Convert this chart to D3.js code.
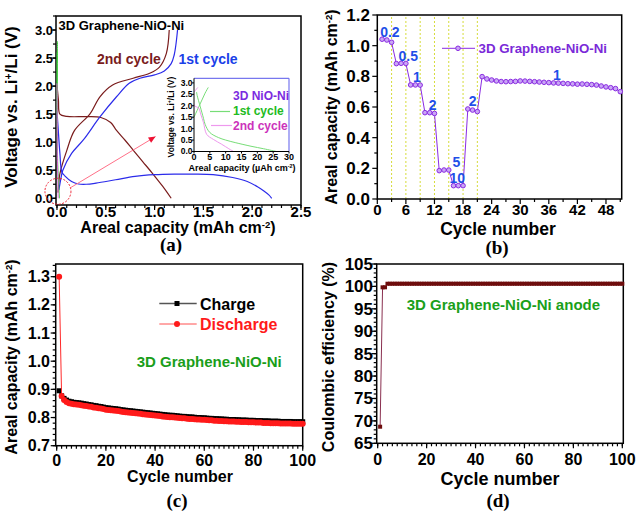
<!DOCTYPE html>
<html><head><meta charset="utf-8">
<script src="https://cdn.jsdelivr.net/npm/d3@7"></script>
<style>
body{margin:0;background:#fff;}
svg{display:block;font-family:"Liberation Sans",Arial,sans-serif;font-weight:bold;}
</style></head><body>
<svg id="c" width="638" height="512"></svg>
<script>
// ---------- Panel (a): voltage profiles (mAh cm-2, V) ----------
const a1DisX = [0.0, 0.01, 0.03, 0.05, 0.08, 0.15, 0.22, 0.3, 0.4, 0.6, 0.8, 1.0, 1.2, 1.4, 1.6, 1.8, 1.95, 2.05, 2.12, 2.17, 2.2];
const a1DisV = [1.55, 1.3, 0.8, 0.47, 0.40, 0.30, 0.255, 0.25, 0.27, 0.33, 0.39, 0.42, 0.43, 0.43, 0.42, 0.37, 0.30, 0.21, 0.13, 0.06, 0.0];
const a1ChX = [0.02, 0.04, 0.06, 0.15, 0.27, 0.44, 0.61, 0.74, 0.85, 1.0, 1.1, 1.17, 1.2, 1.22, 1.235];
const a1ChV = [0.15, 0.35, 0.5, 0.8, 1.04, 1.45, 1.81, 2.05, 2.14, 2.2, 2.27, 2.4, 2.55, 2.76, 3.0];
const a2DisX = [0.0, 0.015, 0.03, 0.1, 0.3, 0.45, 0.55, 0.61, 0.7, 0.78, 0.88, 0.98, 1.08, 1.17];
const a2DisV = [2.02, 1.75, 1.5, 1.46, 1.455, 1.44, 1.35, 1.21, 1.03, 0.86, 0.65, 0.44, 0.22, 0.0];
const a2ChX = [0.01, 0.02, 0.03, 0.1, 0.18, 0.34, 0.44, 0.57, 0.78, 0.95, 1.05, 1.12, 1.15];
const a2ChV = [0.1, 0.3, 0.44, 0.85, 1.21, 1.51, 1.81, 2.02, 2.14, 2.23, 2.34, 2.58, 3.0];
// inset: 3D NiO-Ni (uAh cm-2, V)
const n1ChX = [0, 0.5, 1.5, 2.5, 3.5, 4.5];
const n1ChV = [1.50, 1.65, 1.95, 2.25, 2.55, 2.8];
const n1DisX = [0.8, 1.0, 2.0, 3.0, 3.5, 5, 7.7, 10, 13, 18, 22, 26];
const n1DisV = [2.6, 2.45, 1.95, 1.45, 1.19, 0.83, 0.61, 0.5, 0.39, 0.23, 0.12, 0.0];
const n2DisX = [0, 0.3, 1.4, 2.2, 3.0, 4.0, 6.1, 8.7, 11.0, 12.5];
const n2DisV = [2.05, 1.98, 1.91, 1.6, 1.26, 0.75, 0.53, 0.32, 0.12, 0.0];
const n2ChX = [0, 0.6, 1.2];
const n2ChV = [2.6, 2.7, 2.8];
const aXTicks = [0, 0.5, 1.0, 1.5, 2.0, 2.5];
const aYTicks = [0, 0.5, 1.0, 1.5, 2.0, 2.5, 3.0];
const inXTicks = [0, 5, 10, 15, 20, 25, 30];
const inYTicks = [0, 0.5, 1.0, 1.5, 2.0, 2.5, 3.0];
const circleAt = [0.01, 0.125];
const arrowFrom = [0.14, 0.19], arrowTo = [1.01, 1.1];

// ---------- Panel (b): rate capability ----------
const bCycles = [1,2,3,4,5,6,7,8,9,10,11,12,13,14,15,16,17,18,19,20,21,22,23,24,25,26,27,28,29,30,31,32,33,34,35,36,37,38,39,40,41,42,43,44,45,46,47,48,49,50,51];
const bCap = [1.042,1.037,1.022, 0.883,0.885,0.884, 0.744,0.744,0.743, 0.563,0.563,0.558, 0.185,0.189,0.189, 0.087,0.087,0.087, 0.587,0.580,0.570,
  0.798,0.783,0.776,0.770,0.766,0.765,0.766,0.767,0.770,0.769,0.767,0.765,0.763,0.761,0.759,0.757,0.756,0.754,0.752,0.751,0.749,0.750,0.748,0.746,0.743,0.737,0.731,0.726,0.720,0.700];
const bRateLines = [3, 6, 9, 12, 15, 18, 21];
const bRateLabels = [["0.2", 2.64, 1.058], ["0.5", 6.5, 0.902], ["1", 8.3, 0.765], ["2", 11.6, 0.58], ["5", 16.6, 0.211], ["10", 16.8, 0.104], ["2", 20.0, 0.607], ["1", 37.7, 0.776]];
const bXTicks = [0, 6, 12, 18, 24, 30, 36, 42, 48];
const bYTicks = [0, 0.2, 0.4, 0.6, 0.8, 1.0, 1.2];

// ---------- Panel (c): cycling ----------
const cCycles = d3.range(1, 101);
const cCharge = [0.895,0.877,0.868,0.862,0.858,0.856,0.854,0.853,0.852,0.851,
  0.849,0.848,0.846,0.845,0.843,0.842,0.840,0.839,0.837,0.835,
  0.834,0.833,0.832,0.831,0.830,0.828,0.827,0.826,0.825,0.824,
  0.823,0.822,0.821,0.820,0.819,0.818,0.817,0.816,0.815,0.814,
  0.813,0.812,0.811,0.810,0.809,0.808,0.808,0.807,0.806,0.805,
  0.804,0.804,0.803,0.802,0.802,0.801,0.800,0.800,0.799,0.799,
  0.798,0.797,0.797,0.796,0.796,0.795,0.795,0.794,0.794,0.793,
  0.793,0.793,0.792,0.792,0.791,0.791,0.791,0.790,0.790,0.790,
  0.789,0.789,0.789,0.788,0.788,0.788,0.787,0.787,0.787,0.787,
  0.786,0.786,0.786,0.786,0.786,0.785,0.785,0.785,0.785,0.785];
const cDischarge = [1.300,0.876,0.862,0.855,0.851,0.849,0.847,0.846,0.845,0.844,
  0.842,0.841,0.839,0.838,0.836,0.835,0.833,0.832,0.830,0.828,
  0.827,0.826,0.825,0.824,0.823,0.821,0.820,0.819,0.818,0.817,
  0.816,0.815,0.814,0.813,0.812,0.811,0.810,0.809,0.808,0.807,
  0.806,0.805,0.804,0.803,0.802,0.801,0.801,0.800,0.799,0.798,
  0.797,0.797,0.796,0.795,0.795,0.794,0.793,0.793,0.792,0.792,
  0.791,0.790,0.790,0.789,0.789,0.788,0.788,0.787,0.787,0.786,
  0.786,0.786,0.785,0.785,0.784,0.784,0.784,0.783,0.783,0.783,
  0.782,0.782,0.782,0.781,0.781,0.781,0.780,0.780,0.780,0.780,
  0.779,0.779,0.779,0.779,0.779,0.778,0.778,0.778,0.778,0.778];
const cXTicks = [0, 20, 40, 60, 80, 100];
const cYTicks = [0.7, 0.8, 0.9, 1.0, 1.1, 1.2, 1.3];

// ---------- Panel (d): coulombic efficiency ----------
const dCycles = d3.range(1, 101);
const dCE = [68.7, 99.8, 99.8,
  100.6,100.6,100.6,100.6,100.6,100.6,100.6,100.6,100.6,100.6,100.6,100.6,100.6,100.6,100.6,100.6,100.6,
  100.6,100.6,100.6,100.6,100.6,100.6,100.6,100.6,100.6,100.6,100.6,100.6,100.6,100.6,100.6,100.6,100.6,
  100.6,100.6,100.6,100.6,100.6,100.6,100.6,100.6,100.6,100.6,100.6,100.6,100.6,100.6,100.6,100.6,100.6,
  100.6,100.6,100.6,100.6,100.6,100.6,100.6,100.6,100.6,100.6,100.6,100.6,100.6,100.6,100.6,100.6,100.6,
  100.6,100.6,100.6,100.6,100.6,100.6,100.6,100.6,100.6,100.6,100.6,100.6,100.6,100.6,100.6,100.6,100.6,
  100.6,100.6,100.6,100.6,100.6,100.6,100.6,100.6,100.6,100.6,100.6,100.6];
const dXTicks = [0, 20, 40, 60, 80, 100];
const dYTicks = [65, 70, 75, 80, 85, 90, 95, 100, 105];

// ================= drawing =================
const svg = d3.select("#c");
svg.append("rect").attr("width", 638).attr("height", 512).attr("fill", "#fff");

function minorVals(lo, hi, step) {
  const out = [];
  for (let i = 0; lo + i * step <= hi + 1e-9; i++) out.push(+(lo + i * step).toFixed(6));
  return out;
}

function frame(g, x, y, o) {
  const [xl, xr] = x.range(), [yb, yt] = y.range();
  const tg = g.append("g").attr("stroke", "#000").attr("stroke-width", o.tw || 1.2);
  o.xMinor.forEach(v => tg.append("line").attr("x1", x(v)).attr("x2", x(v)).attr("y1", yb).attr("y2", yb + o.minLen));
  o.xMajor.forEach(v => tg.append("line").attr("x1", x(v)).attr("x2", x(v)).attr("y1", yb).attr("y2", yb + o.majLen));
  o.yMinor.forEach(v => tg.append("line").attr("y1", y(v)).attr("y2", y(v)).attr("x1", xl).attr("x2", xl - o.minLen));
  o.yMajor.forEach(v => tg.append("line").attr("y1", y(v)).attr("y2", y(v)).attr("x1", xl).attr("x2", xl - o.majLen));
  g.append("rect").attr("x", xl).attr("y", yt).attr("width", xr - xl).attr("height", yb - yt)
    .attr("fill", "none").attr("stroke", "#000").attr("stroke-width", o.fw || 1.5);
  o.xMajor.forEach(v => g.append("text").attr("x", x(v)).attr("y", o.xLabY).attr("text-anchor", "middle")
    .attr("font-size", o.xFont).text(o.xFmt(v)));
  o.yMajor.forEach(v => g.append("text").attr("x", o.yLabX).attr("y", y(v)).attr("dy", "0.35em").attr("text-anchor", "end")
    .attr("font-size", o.yFont).text(o.yFmt(v)));
}

function rotTitle(g, x, cy, size, parts) {
  const t = g.append("text").attr("transform", `translate(${x},${cy}) rotate(-90)`).attr("text-anchor", "middle")
    .attr("dy", "0.35em").attr("font-size", size);
  parts.forEach(p => {
    const s = t.append("tspan").text(p[0]);
    if (p[1]) s.attr("baseline-shift", "super").attr("font-size", size * 0.6);
  });
  return t;
}
function hTitle(g, x, y, size, parts) {
  const t = g.append("text").attr("x", x).attr("y", y).attr("text-anchor", "middle").attr("font-size", size);
  parts.forEach(p => {
    const s = t.append("tspan").text(p[0]);
    if (p[1]) s.attr("baseline-shift", "super").attr("font-size", size * 0.6);
  });
  return t;
}
function panelLabel(x, y, s) {
  svg.append("text").attr("x", x).attr("y", y).attr("text-anchor", "middle")
    .attr("font-family", "'Liberation Serif','Times New Roman',serif").attr("font-size", 19).text(s);
}
const f1 = d3.format(".1f");
const zip = (a, b) => a.map((v, i) => [v, b[i]]);

// ---------- (a) ----------
{
  const g = svg.append("g");
  const x = d3.scaleLinear().domain([-0.01, 2.5]).range([56, 301]);
  const y = d3.scaleLinear().domain([-0.12, 3.25]).range([205, 16]);
  frame(g, x, y, {xMajor: aXTicks, xMinor: minorVals(0, 2.5, 0.1), yMajor: aYTicks, yMinor: minorVals(0, 3.25, 0.25),
    xFmt: f1, yFmt: f1, xFont: 15, yFont: 13, xLabY: 217, yLabX: 53, majLen: 5, minLen: 3});
  g.append("clipPath").attr("id", "ca").append("rect").attr("x", 56).attr("y", 16).attr("width", 245).attr("height", 189);
  const pg = g.append("g").attr("clip-path", "url(#ca)");
  const line = d3.line().x(d => x(d[0])).y(d => y(d[1])).curve(d3.curveCatmullRom.alpha(0.5));
  const draw = (xs, vs, c, w) => pg.append("path").datum(zip(xs, vs)).attr("d", line).attr("fill", "none").attr("stroke", c).attr("stroke-width", w);
  draw(a2DisX, a2DisV, "#7a1c1c", 1.2);
  draw(a2ChX, a2ChV, "#7a1c1c", 1.2);
  draw(a1DisX, a1DisV, "#2b2bea", 1.2);
  draw(a1ChX, a1ChV, "#2b2bea", 1.2);
  // NiO-Ni curves in mAh (uAh / 1000)
  draw(n1ChX.map(v => v / 1000), n1ChV, "#33cc33", 1);
  draw(n1DisX.map(v => v / 1000), n1DisV, "#33cc33", 1);
  draw(n2DisX.map(v => v / 1000), n2DisV, "#dd66dd", 1);
  // annotation circle and arrow
  g.append("circle").attr("cx", x(circleAt[0])).attr("cy", y(circleAt[1])).attr("r", 13)
    .attr("fill", "none").attr("stroke", "#ee2233").attr("stroke-width", 1).attr("stroke-dasharray", "2,1.5");
  const ax0 = x(arrowFrom[0]), ay0 = y(arrowFrom[1]), ax1 = x(arrowTo[0]), ay1 = y(arrowTo[1]);
  g.append("line").attr("x1", ax0).attr("y1", ay0).attr("x2", ax1).attr("y2", ay1).attr("stroke", "#ff7088").attr("stroke-width", 1);
  const ang = Math.atan2(ay1 - ay0, ax1 - ax0) * 180 / Math.PI;
  g.append("path").attr("d", "M0,0L-7,-3L-7,3Z").attr("fill", "#ee1133").attr("transform", `translate(${ax1},${ay1}) rotate(${ang})`);
  g.append("text").attr("x", 58.5).attr("y", 30).attr("font-size", 13).text("3D Graphene-NiO-Ni");
  g.append("text").attr("x", 97).attr("y", 64).attr("font-size", 14).attr("fill", "#7a1c1c").text("2nd cycle");
  g.append("text").attr("x", 178.5).attr("y", 64).attr("font-size", 14).attr("fill", "#1a40e8").text("1st cycle");

  // inset
  const ix = d3.scaleLinear().domain([0, 30]).range([194, 289]);
  const iy = d3.scaleLinear().domain([0, 3.2]).range([151.5, 78.3]);
  g.append("rect").attr("x", 194).attr("y", 78.3).attr("width", 95).attr("height", 73.2).attr("fill", "#fff");
  const il = d3.line().x(d => ix(d[0])).y(d => iy(d[1])).curve(d3.curveCatmullRom.alpha(0.5));
  const idraw = (xs, vs, c) => g.append("path").datum(zip(xs, vs)).attr("d", il).attr("fill", "none").attr("stroke", c).attr("stroke-width", 1);
  idraw(n1ChX, n1ChV, "#77dd77");
  idraw(n1DisX, n1DisV, "#77dd77");
  idraw(n2DisX, n2DisV, "#ee99ee");
  idraw(n2ChX, n2ChV, "#ee99ee");
  g.append("line").attr("x1", 194).attr("x2", 289).attr("y1", 78.3).attr("y2", 78.3).attr("stroke", "#7777ee").attr("stroke-width", 1.2);
  g.append("line").attr("x1", 289).attr("x2", 289).attr("y1", 78.3).attr("y2", 151.5).attr("stroke", "#7777ee").attr("stroke-width", 1.2);
  g.append("line").attr("x1", 194).attr("x2", 289).attr("y1", 151.5).attr("y2", 151.5).attr("stroke", "#000").attr("stroke-width", 1);
  g.append("line").attr("x1", 194).attr("x2", 194).attr("y1", 78.3).attr("y2", 151.5).attr("stroke", "#000").attr("stroke-width", 1);
  inXTicks.forEach(v => {
    g.append("line").attr("x1", ix(v)).attr("x2", ix(v)).attr("y1", 151.5).attr("y2", 153.5).attr("stroke", "#000");
    g.append("text").attr("x", ix(v)).attr("y", 160).attr("text-anchor", "middle").attr("font-size", 9).text(v);
  });
  inYTicks.forEach(v => {
    g.append("line").attr("x1", 194).attr("x2", 192).attr("y1", iy(v)).attr("y2", iy(v)).attr("stroke", "#000");
    g.append("text").attr("x", 192.5).attr("y", iy(v)).attr("dy", "0.35em").attr("text-anchor", "end").attr("font-size", 8.5).text(f1(v));
  });
  hTitle(g, 242, 171, 9, [["Areal capacity (µAh cm"], ["-2", true], [")"]]);
  rotTitle(g, 171.5, 117, 8.5, [["Voltage vs. Li"], ["+", true], ["/Li (V)"]]);
  g.append("text").attr("x", 233).attr("y", 100).attr("font-size", 12).attr("fill", "#7b2be0").text("3D NiO-Ni");
  g.append("line").attr("x1", 210).attr("x2", 230).attr("y1", 111.5).attr("y2", 111.5).attr("stroke", "#77dd77").attr("stroke-width", 1.2);
  g.append("text").attr("x", 233).attr("y", 115).attr("font-size", 12).attr("fill", "#22bb22").text("1st cycle");
  g.append("line").attr("x1", 211).attr("x2", 232).attr("y1", 125.5).attr("y2", 125.5).attr("stroke", "#ee99ee").attr("stroke-width", 1.2);
  g.append("text").attr("x", 233).attr("y", 130).attr("font-size", 12).attr("fill", "#cc33bb").text("2nd cycle");

  rotTitle(g, 11, 107, 17, [["Voltage vs. Li"], ["+", true], ["/Li (V)"]]);
  hTitle(g, 178, 233, 16, [["Areal capacity (mAh cm"], ["-2", true], [")"]]);
  panelLabel(171, 251, "(a)");
}

// ---------- (b) ----------
{
  const g = svg.append("g");
  const x = d3.scaleLinear().domain([0, 51.3]).range([377.3, 621.7]);
  const y = d3.scaleLinear().domain([0, 1.2]).range([199, 15]);
  bRateLines.forEach(v => g.append("line").attr("x1", x(v)).attr("x2", x(v)).attr("y1", 199).attr("y2", 15)
    .attr("stroke", "#d6dc3a").attr("stroke-width", 1).attr("stroke-dasharray", "2,2"));
  frame(g, x, y, {xMajor: bXTicks, xMinor: minorVals(3, 51, 6), yMajor: bYTicks, yMinor: minorVals(0.1, 1.1, 0.2),
    xFmt: d => d, yFmt: f1, xFont: 15, yFont: 17, xLabY: 215, yLabX: 370, majLen: 5, minLen: 3});
  const line = d3.line().x((d, i) => x(bCycles[i])).y(d => y(d));
  g.append("path").datum(bCap).attr("d", line).attr("fill", "none").attr("stroke", "#8a2be2").attr("stroke-width", 1);
  g.selectAll(".bp").data(bCap).join("circle").attr("cx", (d, i) => x(bCycles[i])).attr("cy", d => y(d)).attr("r", 2.3)
    .attr("fill", "#c9a6f5").attr("stroke", "#8a2be2").attr("stroke-width", 1);
  bRateLabels.forEach(l => g.append("text").attr("x", x(l[1])).attr("y", y(l[2])).attr("text-anchor", "middle")
    .attr("font-size", 14).attr("fill", "#1f4fe8").text(l[0]));
  g.append("line").attr("x1", 442).attr("x2", 475).attr("y1", 48.3).attr("y2", 48.3).attr("stroke", "#8a2be2").attr("stroke-width", 1);
  g.append("circle").attr("cx", 458).attr("cy", 48.3).attr("r", 2.3).attr("fill", "#c9a6f5").attr("stroke", "#8a2be2");
  g.append("text").attr("x", 478.5).attr("y", 53).attr("font-size", 13.3).attr("fill", "#7a2ad8").text("3D Graphene-NiO-Ni");
  rotTitle(g, 331.5, 107, 16, [["Areal capacity (mAh cm"], ["-2", true], [")"]]);
  hTitle(g, 498, 234.5, 17.5, [["Cycle number"]]);
  panelLabel(497, 254, "(b)");
}

// ---------- (c) ----------
{
  const g = svg.append("g");
  const x = d3.scaleLinear().domain([-0.4, 100]).range([55.7, 302.7]);
  const y = d3.scaleLinear().domain([0.7, 1.345]).range([445.7, 264]);
  frame(g, x, y, {xMajor: cXTicks, xMinor: minorVals(0, 100, 2), yMajor: cYTicks, yMinor: minorVals(0.7, 1.34, 0.02),
    xFmt: d => d, yFmt: f1, xFont: 16, yFont: 16, xLabY: 465.5, yLabX: 50, majLen: 5, minLen: 3});
  const lc = d3.line().x((d, i) => x(cCycles[i])).y(d => y(d));
  g.append("path").datum(cCharge).attr("d", lc).attr("fill", "none").attr("stroke", "#000").attr("stroke-width", 1);
  g.selectAll(".cs").data(cCharge).join("rect").attr("x", (d, i) => x(cCycles[i]) - 2.5).attr("y", d => y(d) - 2.5)
    .attr("width", 5).attr("height", 5).attr("fill", "#000");
  g.append("path").datum(cDischarge).attr("d", lc).attr("fill", "none").attr("stroke", "#ff2a2a").attr("stroke-width", 1);
  g.selectAll(".cd").data(cDischarge).join("circle").attr("cx", (d, i) => x(cCycles[i])).attr("cy", d => y(d)).attr("r", 3)
    .attr("fill", "#ff1a1a");
  g.append("line").attr("x1", 159.3).attr("x2", 196.7).attr("y1", 303.5).attr("y2", 303.5).attr("stroke", "#555").attr("stroke-width", 1.5);
  g.append("rect").attr("x", 174.5).attr("y", 301).attr("width", 5).attr("height", 5).attr("fill", "#000");
  g.append("text").attr("x", 200).attr("y", 310).attr("font-size", 16).text("Charge");
  g.append("line").attr("x1", 159.3).attr("x2", 196.7).attr("y1", 324).attr("y2", 324).attr("stroke", "#ff5050").attr("stroke-width", 1);
  g.append("circle").attr("cx", 177).attr("cy", 324).attr("r", 3).attr("fill", "#ff1a1a");
  g.append("text").attr("x", 200).attr("y", 330).attr("font-size", 16).attr("fill", "#ff1a1a").text("Discharge");
  g.append("text").attr("x", 136.7).attr("y", 366.5).attr("font-size", 15).attr("fill", "#1a9e1a").text("3D Graphene-NiO-Ni");
  rotTitle(g, 11.7, 357, 16, [["Areal capacity (mAh cm"], ["-2", true], [")"]]);
  hTitle(g, 180, 481.5, 16, [["Cycle number"]]);
  panelLabel(177, 507, "(c)");
}

// ---------- (d) ----------
{
  const g = svg.append("g");
  const x = d3.scaleLinear().domain([-0.4, 100.4]).range([376.7, 623.3]);
  const y = d3.scaleLinear().domain([65, 105]).range([443.3, 264]);
  frame(g, x, y, {xMajor: dXTicks, xMinor: minorVals(0, 100, 2), yMajor: dYTicks, yMinor: minorVals(65, 105, 1),
    xFmt: d => d, yFmt: d => d, xFont: 16, yFont: 17, xLabY: 465, yLabX: 373, majLen: 5, minLen: 3});
  const ld = d3.line().x((d, i) => x(dCycles[i])).y(d => y(d));
  g.append("path").datum(dCE).attr("d", ld).attr("fill", "none").attr("stroke", "#8a3050").attr("stroke-width", 1);
  g.selectAll(".ds").data(dCE).join("rect").attr("x", (d, i) => x(dCycles[i]) - 2).attr("y", d => y(d) - 2)
    .attr("width", 4).attr("height", 4).attr("fill", "#6e0d0d");
  g.append("text").attr("x", 406.7).attr("y", 310).attr("font-size", 15).attr("fill", "#1aa01a").text("3D Graphene-NiO-Ni anode");
  rotTitle(g, 328, 357, 16, [["Coulombic efficiency (%)"]]);
  hTitle(g, 500, 485, 18, [["Cycle number"]]);
  panelLabel(498, 507, "(d)");
}
</script>
</body></html>
